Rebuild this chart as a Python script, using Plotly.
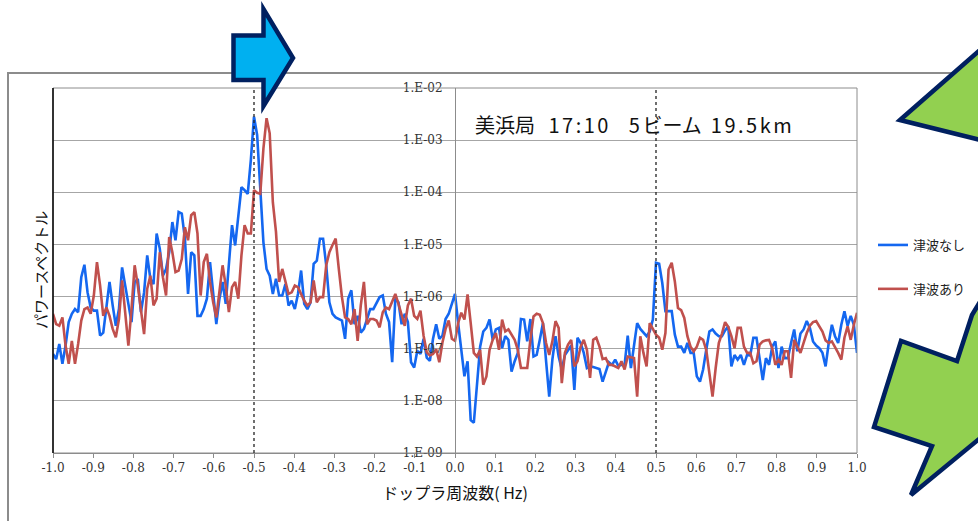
import numpy as np
import plotly.graph_objects as go

# Doppler frequency bins (Hz)
freq_hz = np.linspace(-1.0, 1.0, 257)

# Power spectrum levels, log10 of power
psd_no_tsunami_log10 = [
    -7.10, -7.20, -6.91, -7.29, -6.94, -6.49, -6.33, -6.24, -6.30, -5.63,
    -5.39, -5.92, -6.21, -6.27, -6.27, -6.75, -6.69, -6.17, -5.72, -6.17,
    -6.56, -6.24, -5.44, -5.79, -6.17, -6.49, -5.72, -5.66, -6.30, -5.92,
    -5.21, -5.66, -5.76, -4.79, -5.08, -5.60, -5.47, -5.15, -4.57, -4.92,
    -4.38, -4.41, -4.89, -5.95, -5.15, -5.21, -6.37, -6.37, -6.24, -6.04,
    -5.34, -5.92, -6.53, -6.04, -5.72, -6.14, -5.34, -4.63, -5.02, -4.51,
    -3.90, -3.96, -4.03, -3.38, -2.55, -2.90,
    -3.93, -4.96, -5.47, -5.60, -5.95, -5.66, -5.98, -5.98, -5.76, -6.17,
    -6.08, -6.24, -5.95, -5.50, -6.14, -6.24, -6.11, -5.37, -5.31, -4.89,
    -4.89, -5.40, -6.11, -6.33, -6.40, -6.43, -6.46, -6.81, -6.04, -5.88,
    -6.53, -6.37, -6.69, -6.62, -6.43, -6.24, -6.24, -6.11, -6.01, -5.98,
    -6.33, -6.49, -7.26, -6.04, -6.11, -6.53, -6.33, -6.49, -7.26, -7.36,
    -7.04, -7.10, -6.81, -7.17, -7.23, -6.81, -6.53, -6.81, -6.75, -6.43,
    -6.33, -6.14, -5.95,
    -6.51, -7.02, -7.53, -7.24, -8.37, -8.42, -7.66, -6.96, -6.67, -6.60,
    -6.44, -6.83, -6.63, -6.60, -6.99, -6.76, -6.83, -7.44, -7.24, -7.08,
    -6.43, -6.44, -6.86, -6.43, -7.15, -7.12, -6.83, -6.51, -7.24, -7.92,
    -7.21, -6.76, -7.15, -7.40, -7.12, -7.02, -6.94, -7.79, -6.79, -6.89,
    -7.08, -7.37, -7.34, -7.35, -7.37, -7.39, -7.63, -7.44, -7.26, -7.31,
    -7.21, -7.33, -7.31, -7.31, -6.75, -7.37, -6.96, -6.51, -6.62, -6.70,
    -6.76, -6.67, -6.44, -5.35, -5.37,
    -5.74, -6.28, -6.28, -6.28, -6.73, -6.96, -6.96, -7.08, -6.89, -7.08,
    -7.08, -7.53, -7.63, -7.40, -7.02, -6.67, -6.63, -6.71, -6.76, -6.76,
    -6.65, -6.57, -7.34, -7.12, -7.21, -7.12, -7.31, -7.12, -7.13, -6.79,
    -6.79, -7.24, -7.60, -7.18, -7.31, -6.96, -6.86, -7.37, -6.96, -7.18,
    -7.18, -6.89, -6.63, -7.05, -6.71, -6.63, -6.47, -6.60, -6.86, -6.94,
    -6.99, -7.08, -7.34, -6.89, -6.54, -6.76, -6.89, -6.54, -6.28, -6.56,
    -6.37, -6.54, -7.08,
]

psd_tsunami_log10 = [
    -6.33, -6.53, -6.56, -6.40, -6.94, -7.29, -6.85, -7.29, -6.91, -6.46,
    -6.24, -6.21, -6.33, -5.98, -5.34, -5.79, -6.37, -6.21, -6.37, -6.62,
    -6.78, -6.43, -5.69, -6.30, -6.94, -6.24, -5.40, -5.79, -6.24, -6.72,
    -5.85, -5.60, -6.17, -6.04, -5.15, -5.63, -5.98, -4.86, -5.15, -5.53,
    -5.50, -5.28, -4.67, -4.92, -4.44, -4.38, -4.79, -5.98, -5.34, -5.18,
    -5.72, -6.11, -6.40, -5.92, -5.40, -5.79, -6.30, -5.82, -5.72, -6.04,
    -5.21, -4.63, -4.79, -4.79, -3.96, -4.01,
    -4.03, -3.16, -2.58, -2.87, -4.19, -4.76, -5.72, -5.47, -5.72, -5.95,
    -5.92, -5.79, -5.82, -5.95, -6.08, -6.17, -6.11, -5.69, -6.11, -6.01,
    -6.01, -5.40, -5.15, -5.01, -4.89, -5.47, -6.01, -6.40, -6.43, -6.53,
    -6.24, -6.85, -6.17, -5.72, -6.53, -6.43, -6.43, -6.46, -6.59, -6.30,
    -6.21, -6.24, -6.11, -5.95, -6.14, -6.33, -6.56, -6.17, -6.04, -6.37,
    -6.43, -6.27, -6.75, -7.07, -7.13, -7.10, -7.01, -7.26, -6.88, -6.62,
    -6.46, -6.81, -6.85,
    -6.51, -6.31, -6.44, -5.96, -6.51, -7.08, -7.15, -7.02, -7.69, -7.53,
    -7.02, -6.83, -6.70, -7.02, -6.44, -6.67, -6.63, -6.73, -6.83, -7.02,
    -7.37, -7.37, -7.37, -6.83, -6.38, -6.33, -6.35, -6.51, -6.89, -7.12,
    -6.86, -6.47, -6.60, -7.66, -7.08, -6.92, -6.83, -7.34, -7.24, -6.96,
    -6.83, -7.02, -7.56, -6.83, -6.79, -6.96, -7.20, -7.18, -7.31, -7.31,
    -7.34, -7.37, -7.24, -7.40, -7.15, -7.16, -7.18, -7.92, -6.76, -7.08,
    -7.34, -6.51, -6.63, -6.73, -6.79,
    -7.02, -6.70, -5.48, -5.35, -5.71, -6.22, -6.26, -6.41, -6.76, -6.96,
    -7.05, -6.96, -6.79, -6.83, -7.02, -7.47, -7.92, -7.37, -6.89, -6.71,
    -6.49, -6.58, -6.76, -6.99, -6.60, -6.60, -6.96, -7.08, -7.08, -7.28,
    -7.24, -6.92, -6.86, -6.84, -6.83, -6.99, -7.31, -7.21, -7.31, -7.05,
    -7.05, -7.56, -6.83, -6.96, -7.08, -6.89, -6.70, -6.56, -6.49, -6.47,
    -6.56, -6.67, -6.84, -6.89, -6.86, -6.96, -7.08, -7.21, -6.79, -6.57,
    -6.83, -6.54, -6.31,
]

series_names = ["津波なし", "津波あり"]
series_colors = ["#1467f0", "#c0504d"]

x_tick_vals = [-1.0, -0.9, -0.8, -0.7, -0.6, -0.5, -0.4, -0.3, -0.2, -0.1, 0.0,
               0.1, 0.2, 0.3, 0.4, 0.5, 0.6, 0.7, 0.8, 0.9, 1.0]
x_tick_text = ["-1.0", "-0.9", "-0.8", "-0.7", "-0.6", "-0.5", "-0.4", "-0.3", "-0.2", "-0.1", "0.0",
               "0.1", "0.2", "0.3", "0.4", "0.5", "0.6", "0.7", "0.8", "0.9", "1.0"]
y_tick_vals = [1e-9, 1e-8, 1e-7, 1e-6, 1e-5, 1e-4, 1e-3, 1e-2]
y_tick_text = ["1.E-09", "1.E-08", "1.E-07", "1.E-06", "1.E-05", "1.E-04", "1.E-03", "1.E-02"]

# beam Doppler markers (Hz)
marker_freqs = [-0.5, 0.5]

NB = "\u00a0"
SPACED = '<span style="letter-spacing:2.5px">{}</span>'
title_text = ("美浜局" + NB * 3 + SPACED.format("17:10") + NB * 4
              + SPACED.format("5") + "ビーム" + NB * 2 + SPACED.format("19.5km"))

W, H = 978, 521
ML, MR, MT, MB = 53, 121, 88, 68
PW, PH = W - ML - MR, H - MT - MB


def px_to_paper(x, y):
    return (x - ML) / PW, (H - MB - y) / PH


def poly_path(points):
    coords = [px_to_paper(x, y) for x, y in points]
    return "M " + " L ".join(f"{a:.5f},{b:.5f}" for a, b in coords) + " Z"


fig = go.Figure()
for name, color, levels in zip(series_names, series_colors,
                               [psd_no_tsunami_log10, psd_tsunami_log10]):
    fig.add_trace(go.Scatter(
        x=freq_hz, y=np.power(10.0, np.array(levels)),
        mode="lines", name=name, legendgroup=name,
        line=dict(color=color, width=2.6),
    ))

tick_font = dict(family="DejaVu Serif", size=12, color="#333333")
cjk = "Noto Sans CJK JP"

shapes = []
# outer chart frame
x0, y0 = px_to_paper(8, 73)
x1, y1 = px_to_paper(1010, 560)
shapes.append(dict(type="rect", xref="paper", yref="paper", x0=x0, y0=y1, x1=x1, y1=y0,
                   line=dict(color="#8c8c8c", width=2), layer="below"))
# plot-area border
shapes.append(dict(type="rect", xref="paper", yref="paper", x0=0, y0=0, x1=1, y1=1,
                   line=dict(color="#8c8c8c", width=1), layer="above"))
shapes.append(dict(type="line", xref="paper", yref="paper", x0=0, y0=0, x1=0, y1=1,
                   line=dict(color="#000000", width=1.5), layer="above"))
# dotted Doppler markers
for f in marker_freqs:
    shapes.append(dict(type="line", xref="x", yref="paper", x0=f, x1=f, y0=0, y1=1,
                       line=dict(color="#222222", width=1.3, dash="dot"), layer="above"))

# callout arrows
navy = "#002060"
shapes.append(dict(type="path", xref="paper", yref="paper",
                   path=poly_path([(233.5, 35.5), (263.5, 35.5), (263.5, 9), (293, 58),
                                   (263.5, 106), (263.5, 80), (233.5, 80)]),
                   fillcolor="#00b0f0", line=dict(color=navy, width=4.5), layer="above"))
shapes.append(dict(type="path", xref="paper", yref="paper",
                   path=poly_path([(900, 120), (1005, 28), (1005, 146)]),
                   fillcolor="#92d050", line=dict(color=navy, width=4.5), layer="above"))
shapes.append(dict(type="path", xref="paper", yref="paper",
                   path=poly_path([(972, 315), (957, 361), (901, 341), (874, 427), (932, 446),
                                   (911, 495), (1012, 412), (992, 282)]),
                   fillcolor="#92d050", line=dict(color=navy, width=4.5), layer="above"))

tx, ty = px_to_paper(473, 124)
ylx, yly = px_to_paper(40, 270)
annotations = [
    dict(text=title_text, xref="paper", yref="paper", x=tx, y=ty, xanchor="left",
         yanchor="middle", showarrow=False, font=dict(family=cjk, size=20, color="#111111")),
    dict(text="パワースペクトル", xref="paper", yref="paper", x=ylx, y=yly, textangle=-90,
         xanchor="center", yanchor="middle", showarrow=False,
         font=dict(family=cjk, size=15, color="#111111")),
]

lgx, lgy = px_to_paper(873, 230)
fig.update_layout(
    width=W, height=H,
    margin=dict(l=ML, r=MR, t=MT, b=MB, pad=0, autoexpand=False),
    paper_bgcolor="white", plot_bgcolor="white",
    showlegend=True,
    legend=dict(x=lgx, y=lgy, xanchor="left", yanchor="top", traceorder="grouped",
                tracegroupgap=24, bgcolor="rgba(0,0,0,0)",
                font=dict(family=cjk, size=13, color="#222222")),
    xaxis=dict(range=[-1, 1], tickvals=x_tick_vals, ticktext=x_tick_text,
               showgrid=False, zeroline=False, showline=True, linecolor="#8c8c8c",
               linewidth=1, ticks="outside", ticklen=4, tickcolor="#8c8c8c",
               tickfont=tick_font,
               title=dict(text="ドップラ周波数( Hz)", standoff=13,
                          font=dict(family=cjk, size=16, color="#111111"))),
    yaxis=dict(type="log", range=[-9, -2], anchor="free", position=0.5,
               tickvals=y_tick_vals, ticktext=y_tick_text, showgrid=True,
               gridcolor="#a6a6a6", gridwidth=1, zeroline=False, showline=True,
               linecolor="#8c8c8c", linewidth=1, ticks="", ticklabelstandoff=10,
               tickfont=tick_font),
    shapes=shapes,
    annotations=annotations,
)

fig.write_html("out.html")
